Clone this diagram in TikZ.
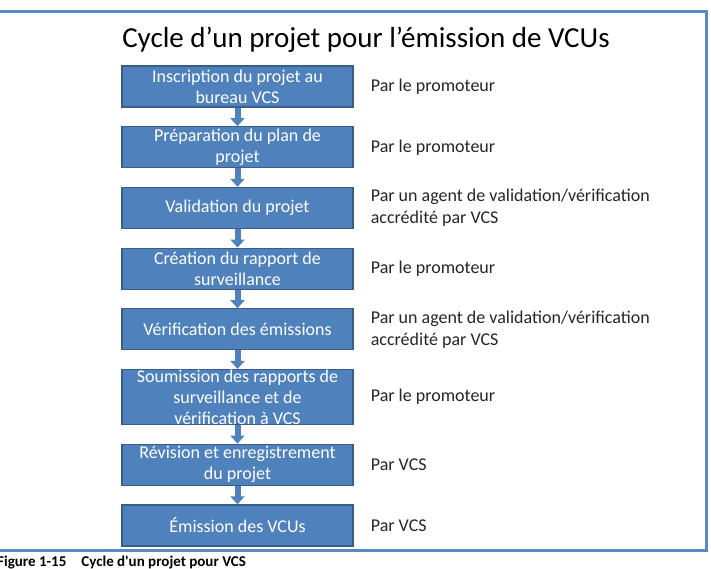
\documentclass[tikz,border=0pt]{standalone}
\usepackage{fontspec}
\setmainfont{Carlito}
\usetikzlibrary{arrows.meta, positioning}
\definecolor{vcsblue}{HTML}{4F81BD}
\definecolor{vcsedge}{HTML}{385D8A}
\definecolor{vcsframe}{HTML}{5A89C4}

\begin{document}
\begin{tikzpicture}[
    x=1pt, y=-1pt,
    node distance=18.5pt and 13.7pt,
    every node/.style={font=\fontsize{18}{21}\selectfont},
    stage/.style={draw=vcsedge, line width=1.2pt, fill=vcsblue, text=white, align=center, minimum width=231pt, minimum height=41pt, inner ysep=0pt},
    who/.style={align=left, text=black!85, font=\fontsize{18}{22}\selectfont},
    arrow/.style={-{Triangle[width=14pt, length=8pt]}, line width=6pt, vcsblue}
]
\useasboundingbox (0,0) rectangle (711,568);
\draw[vcsframe, line width=3pt] (-10,11.5) rectangle (706,550);
\node[font=\fontsize{29}{33}\selectfont] (title) at (366,40) {Cycle d’un projet pour l’émission de VCUs};

% stages of the cycle
\node[stage] (s1) at (237.5,86.5) {Inscription du projet au\\bureau VCS};
\node[stage, below=of s1] (s2) {Préparation du plan de\\projet};
\node[stage, below=of s2] (s3) {Validation du projet};
\node[stage, below=of s3] (s4) {Création du rapport de\\surveillance};
\node[stage, below=of s4] (s5) {Vérification des émissions};
\node[stage, below=of s5, minimum height=55pt, inner ysep=-3pt] (s6) {Soumission des rapports de\\surveillance et de\\vérification à VCS};
\node[stage, below=of s6] (s7) {Révision et enregistrement\\du projet};
\node[stage, below=of s7] (s8) {Émission des VCUs};

% who is in charge
\node[who, right=of s1] (w1) {Par le promoteur};
\node[who, right=of s2] (w2) {Par le promoteur};
\node[who, right=of s3] (w3) {Par un agent de validation/vérification\\accrédité par VCS};
\node[who, right=of s4] (w4) {Par le promoteur};
\node[who, right=of s5] (w5) {Par un agent de validation/vérification\\accrédité par VCS};
\node[who, right=of s6] (w6) {Par le promoteur};
\node[who, right=of s7] (w7) {Par VCS};
\node[who, right=of s8] (w8) {Par VCS};

\foreach \a/\b in {s1/s2, s2/s3, s3/s4, s4/s5, s5/s6, s6/s7, s7/s8}
    \draw[arrow] (\a.south) -- (\b.north);

\node[anchor=base west, inner sep=0pt, font=\bfseries\fontsize{15}{17}\selectfont] (caption) at (-3,566) {Figure 1-15\quad Cycle d\textquotesingle un projet pour VCS};
\end{tikzpicture}
\end{document}
